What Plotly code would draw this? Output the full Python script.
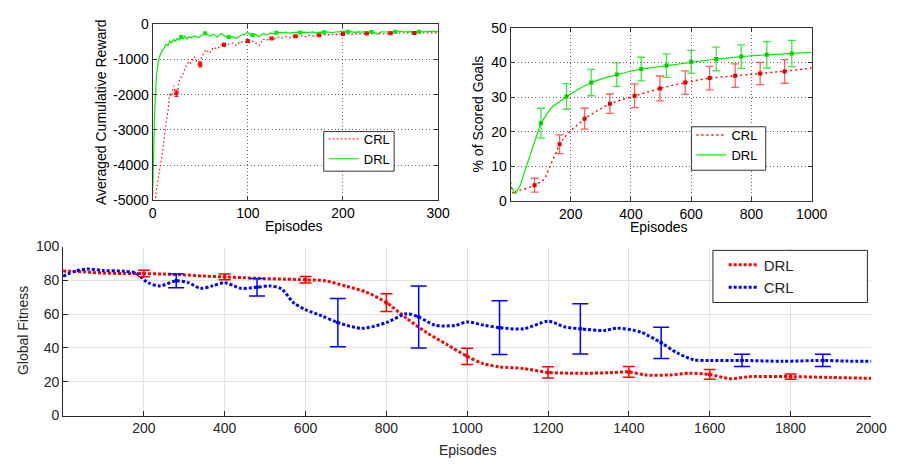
import plotly.graph_objects as go

# ---------------- top-left: averaged cumulative reward ----------------
TL_EP = list(range(0, 42, 2)) + list(range(44, 304, 4))
TL_DRL = [-4850, -2600, -1450, -1050, -860, -740, -690, -560, -610, -470, -520,
          -430, -480, -400, -450, -360, -410, -330, -420, -350, -380,
          -330, -380, -300, -250, -340, -280, -360, -260, -330, -370,
          -350, -400, -320, -280, -230, -330, -280, -350, -260, -300,
          -250, -270, -230, -240, -220, -250, -230, -220, -240, -220,
          -230, -215, -240, -220, -225, -210, -230, -215, -220, -200,
          -215, -205, -225, -210, -220, -205, -215, -220, -280, -210,
          -215, -205, -210, -215, -200, -210, -205, -215, -200, -205,
          -210, -200, -205, -200, -205]
TL_CRL = [-5500, -5200, -4700, -4400, -4000, -3700, -3300, -2800, -2500, -1950, -2050,
          -1750, -1950, -2000, -1600, -1500, -1400, -1250, -1150, -1050, -1100,
          -920, -1150, -900, -720, -820, -650, -700, -580, -620, -560,
          -530, -600, -480, -520, -460, -450, -520, -600, -420, -450,
          -380, -410, -360, -390, -350, -380, -330, -340, -320, -350,
          -310, -330, -300, -320, -290, -300, -280, -300, -270, -280,
          -260, -290, -270, -260, -280, -250, -270, -260, -250, -270,
          -255, -260, -250, -245, -255, -250, -240, -250, -245, -240,
          -250, -245, -240, -245, -240]
TL_CRL_EB_X = [25, 50, 75, 100, 125, 150, 175, 200, 225, 250, 275]
TL_CRL_EB_Y = [-1960, -1140, -580, -470, -400, -340, -310, -270, -260, -250, -245]
TL_CRL_EB_E = [90, 70, 40, 40, 30, 30, 25, 25, 25, 25, 25]
TL_DRL_EB_X = [30, 55, 80, 105, 130, 155, 180, 205, 230, 255, 280]
TL_DRL_EB_Y = [-360, -250, -360, -300, -240, -230, -220, -210, -215, -210, -205]
TL_DRL_EB_E = [25, 25, 25, 25, 20, 20, 20, 20, 20, 20, 20]
TL_XTICKS = [0, 100, 200, 300]
TL_YTICKS = [-5000, -4000, -3000, -2000, -1000, 0]

# ---------------- top-right: % of scored goals ----------------
TR_DRL_X = [0, 6, 12, 17, 25, 33, 45, 60, 82, 101, 120, 136, 160, 186, 230, 268,
            310, 353, 395, 434, 476, 518, 560, 600, 640, 683, 725, 766, 808, 851,
            893, 934, 1000]
TR_DRL_Y = [3.5, 3.7, 2.5, 2.2, 3.5, 4.7, 8.0, 12.1, 17.7, 22.5, 25.0, 27.0, 28.5,
            30.2, 32.5, 34.2, 35.5, 36.5, 37.4, 38.1, 38.6, 39.1, 39.7, 40.2, 40.6,
            41.0, 41.3, 41.7, 42.0, 42.2, 42.4, 42.6, 42.9]
TR_CRL_X = [0, 3, 8, 12, 20, 38, 60, 80, 100, 114, 130, 146, 163, 180, 196, 220,
            246, 290, 330, 370, 412, 455, 496, 538, 580, 620, 661, 705, 746, 790,
            829, 870, 910, 955, 1000]
TR_CRL_Y = [5.5, 3.7, 2.5, 2.0, 3.0, 3.3, 3.8, 4.6, 5.5, 6.5, 9.5, 13.0, 16.4, 18.5,
            20.0, 21.8, 23.8, 26.2, 28.1, 29.3, 30.4, 31.5, 32.5, 33.4, 34.2, 34.9,
            35.5, 35.9, 36.2, 36.5, 36.8, 37.1, 37.4, 37.9, 38.4]
TR_DRL_EB_X = [101, 186, 268, 353, 434, 518, 600, 683, 766, 851, 934]
TR_DRL_EB_Y = [22.5, 30.2, 34.2, 36.5, 38.1, 39.1, 40.2, 41.0, 41.7, 42.2, 42.6]
TR_DRL_EB_E = [4.3, 3.7, 3.8, 3.4, 3.4, 3.4, 3.3, 3.4, 3.4, 3.8, 3.8]
TR_CRL_EB_X = [80, 163, 246, 330, 412, 496, 580, 661, 746, 829, 910]
TR_CRL_EB_Y = [4.6, 16.4, 23.8, 28.1, 30.4, 32.5, 34.2, 35.5, 36.2, 36.8, 37.4]
TR_CRL_EB_E = [2.0, 2.7, 3.0, 2.8, 3.4, 3.6, 3.4, 3.4, 3.4, 3.2, 3.4]
TR_XTICKS = [200, 400, 600, 800, 1000]
TR_YTICKS = [0, 10, 20, 30, 40, 50]

# ---------------- bottom: global fitness ----------------
BT_DRL_X = [0, 50, 100, 150, 200, 250, 300, 350, 400, 450, 500, 550, 600, 650, 700,
            750, 800, 850, 900, 950, 1000, 1040, 1080, 1140, 1200, 1280, 1350, 1400,
            1440, 1500, 1550, 1600, 1650, 1700, 1800, 1900, 2000]
BT_DRL_Y = [85.5, 85.0, 84.3, 84.0, 84.0, 83.7, 83.2, 82.5, 82.0, 81.5, 81.0, 80.7,
            80.3, 79.7, 76.5, 73.0, 66.8, 57.5, 49.0, 42.0, 35.0, 30.7, 28.8, 27.8,
            25.5, 25.0, 25.3, 25.8, 24.0, 24.0, 25.0, 24.3, 21.8, 23.0, 23.0, 22.5, 22.0]
BT_CRL_X = [0, 30, 60, 100, 150, 180, 210, 240, 280, 310, 340, 370, 400, 440, 480,
            510, 540, 570, 600, 640, 680, 740, 800, 850, 880, 920, 970, 1000, 1040,
            1080, 1140, 1200, 1240, 1280, 1340, 1370, 1430, 1480, 1520, 1560, 1600,
            1680, 1780, 1880, 1940, 2000]
BT_CRL_Y = [82.4, 85.4, 86.7, 85.8, 85.4, 84.3, 78.6, 76.7, 79.7, 78.6, 75.3, 76.7,
            78.6, 75.3, 75.9, 76.7, 75.0, 66.8, 62.6, 59.0, 55.0, 51.6, 55.0, 60.2,
            58.3, 53.5, 53.3, 55.4, 53.5, 52.0, 51.3, 55.8, 52.5, 51.3, 50.3, 51.7,
            49.3, 43.0, 37.0, 33.0, 32.6, 32.6, 32.1, 32.6, 32.2, 32.1]
BT_DRL_EB_X = [200, 400, 600, 800, 1000, 1200, 1400, 1600, 1800]
BT_DRL_EB_Y = [84.0, 82.0, 80.3, 66.8, 35.0, 25.5, 25.8, 24.3, 23.0]
BT_DRL_EB_E = [1.9, 1.7, 1.9, 5.2, 4.8, 3.3, 3.2, 2.9, 1.5]
BT_CRL_EB_X = [280, 480, 680, 880, 1080, 1280, 1480, 1680, 1880]
BT_CRL_EB_Y = [79.7, 75.9, 55.0, 58.3, 52.0, 51.3, 43.0, 32.6, 32.6]
BT_CRL_EB_E = [4.1, 5.2, 14.3, 18.4, 15.9, 14.9, 9.3, 3.6, 3.6]
BT_XTICKS = [200, 400, 600, 800, 1000, 1200, 1400, 1600, 1800, 2000]
BT_YTICKS = [0, 20, 40, 60, 80, 100]

W, H = 902, 466
FONT = "Liberation Sans, Arial, sans-serif"
RED, GREEN, BLUE = "#ff0000", "#00ee00", "#0000ff"


def px_x(p):
    return p / W


def px_y(p):
    return 1 - p / H


fig = go.Figure()

# top-left traces
fig.add_trace(go.Scatter(x=TL_EP, y=TL_CRL, mode="lines", name="CRL",
                         line=dict(color=RED, width=1.2, dash="1.5px,2.5px"),
                         xaxis="x", yaxis="y", legend="legend"))
fig.add_trace(go.Scatter(x=TL_EP, y=TL_DRL, mode="lines", name="DRL",
                         line=dict(color=GREEN, width=1.2),
                         xaxis="x", yaxis="y", legend="legend"))
fig.add_trace(go.Scatter(x=TL_CRL_EB_X, y=TL_CRL_EB_Y, mode="markers", showlegend=False,
                         marker=dict(color=RED, size=4, symbol="square"),
                         error_y=dict(type="data", array=TL_CRL_EB_E, color=RED,
                                      thickness=1, width=2),
                         xaxis="x", yaxis="y"))
fig.add_trace(go.Scatter(x=TL_DRL_EB_X, y=TL_DRL_EB_Y, mode="markers", showlegend=False,
                         marker=dict(color=GREEN, size=4, symbol="square"),
                         error_y=dict(type="data", array=TL_DRL_EB_E, color=GREEN,
                                      thickness=1, width=2),
                         xaxis="x", yaxis="y"))

# top-right traces
fig.add_trace(go.Scatter(x=TR_CRL_X, y=TR_CRL_Y, mode="lines", name="CRL",
                         line=dict(color=RED, width=1.4, dash="2px,3px"),
                         xaxis="x2", yaxis="y2", legend="legend2"))
fig.add_trace(go.Scatter(x=TR_DRL_X, y=TR_DRL_Y, mode="lines", name="DRL",
                         line=dict(color=GREEN, width=1.2),
                         xaxis="x2", yaxis="y2", legend="legend2"))
fig.add_trace(go.Scatter(x=TR_CRL_EB_X, y=TR_CRL_EB_Y, mode="markers", showlegend=False,
                         marker=dict(color="#e00000", size=4, symbol="square"),
                         error_y=dict(type="data", array=TR_CRL_EB_E,
                                      color="rgba(255,40,40,0.75)", thickness=1.3, width=4),
                         xaxis="x2", yaxis="y2"))
fig.add_trace(go.Scatter(x=TR_DRL_EB_X, y=TR_DRL_EB_Y, mode="markers", showlegend=False,
                         marker=dict(color="#00cc00", size=4, symbol="square"),
                         error_y=dict(type="data", array=TR_DRL_EB_E,
                                      color="rgba(20,220,20,0.8)", thickness=1.3, width=4),
                         xaxis="x2", yaxis="y2"))

# bottom traces
fig.add_trace(go.Scatter(x=BT_DRL_X, y=BT_DRL_Y, mode="lines", name="DRL",
                         line=dict(color=RED, width=3, dash="3px,2px", shape="spline",
                                   smoothing=0.8),
                         xaxis="x3", yaxis="y3", legend="legend3"))
fig.add_trace(go.Scatter(x=BT_CRL_X, y=BT_CRL_Y, mode="lines", name="CRL",
                         line=dict(color=BLUE, width=3, dash="3px,2px", shape="spline",
                                   smoothing=0.8),
                         xaxis="x3", yaxis="y3", legend="legend3"))
fig.add_trace(go.Scatter(x=BT_DRL_EB_X, y=BT_DRL_EB_Y, mode="markers", showlegend=False,
                         marker=dict(color=RED, size=4),
                         error_y=dict(type="data", array=BT_DRL_EB_E, color=RED,
                                      thickness=1.5, width=6),
                         xaxis="x3", yaxis="y3"))
fig.add_trace(go.Scatter(x=BT_CRL_EB_X, y=BT_CRL_EB_Y, mode="markers", showlegend=False,
                         marker=dict(color=BLUE, size=4),
                         error_y=dict(type="data", array=BT_CRL_EB_E, color=BLUE,
                                      thickness=1.5, width=8),
                         xaxis="x3", yaxis="y3"))

top_tick_font = dict(family=FONT, size=14, color="black")
top_axis = dict(showline=True, linecolor="#333", linewidth=1, mirror="ticks",
                ticks="inside", ticklen=4, tickcolor="#333",
                showgrid=True, gridcolor="rgba(0,0,0,0.6)", griddash="1px,2.5px",
                gridwidth=1, zeroline=False, tickfont=top_tick_font)

bt_axis = dict(showline=True, linecolor="#262626", linewidth=1, mirror=False,
               ticks="inside", ticklen=5, tickcolor="#262626",
               showgrid=True, gridcolor="#e3e3e3", gridwidth=1,
               zeroline=False, tickfont=dict(family=FONT, size=14, color="#262626"))

# legend entries are drawn by plotly; their frames are drawn as boxes behind them
legend_common = dict(xanchor="left", yanchor="top", bgcolor="rgba(0,0,0,0)",
                     borderwidth=0, tracegroupgap=0)

fig.update_layout(
    width=W, height=H, margin=dict(l=0, r=0, t=0, b=0),
    paper_bgcolor="white", plot_bgcolor="white",
    font=dict(family=FONT, size=14, color="black"),
    xaxis=dict(top_axis, domain=[px_x(152), px_x(444)], range=[0, 300],
               tickvals=TL_XTICKS, ticktext=[str(v) for v in TL_XTICKS], anchor="y"),
    yaxis=dict(top_axis, domain=[px_y(199), px_y(17)], range=[-5000, 0],
               tickvals=TL_YTICKS, ticktext=[str(v) for v in TL_YTICKS], anchor="x"),
    xaxis2=dict(top_axis, domain=[px_x(518), px_x(826)], range=[0, 1000],
                tickvals=TR_XTICKS, ticktext=[str(v) for v in TR_XTICKS], anchor="y2"),
    yaxis2=dict(top_axis, domain=[px_y(200), px_y(20.5)], range=[0, 50],
                tickvals=TR_YTICKS, ticktext=[str(v) for v in TR_YTICKS], anchor="x2"),
    xaxis3=dict(bt_axis, domain=[px_x(60.4), px_x(887)], range=[0, 2000],
                tickvals=BT_XTICKS, ticktext=[str(v) for v in BT_XTICKS], anchor="y3"),
    yaxis3=dict(bt_axis, domain=[px_y(422), px_y(247)], range=[0, 100],
                tickvals=BT_YTICKS, ticktext=[str(v) for v in BT_YTICKS], anchor="x3"),
    legend=dict(legend_common, x=px_x(327), y=px_y(120),
                font=dict(family=FONT, size=13, color="black")),
    legend2=dict(legend_common, x=px_x(703), y=px_y(116),
                 font=dict(family=FONT, size=13, color="black")),
    legend3=dict(legend_common, x=px_x(736), y=px_y(249),
                 font=dict(family=FONT, size=15, color="#262626")),
    showlegend=True,
)

# legend frames
for x0, y0, x1, y1, col in [(327, 128, 399, 169, "#333"),
                            (703, 123, 779, 168, "#333"),
                            (725, 251, 883, 305, "#262626")]:
    fig.add_shape(type="rect", xref="paper", yref="paper",
                  x0=px_x(x0), x1=px_x(x1), y0=px_y(y1), y1=px_y(y0),
                  fillcolor="white", line=dict(color=col, width=1), layer="above")

# axis titles
titles = [
    ("Averaged Cumulative Reward", 100, 108, -90, "black"),
    ("Episodes", 297, 226, 0, "black"),
    ("% of Scored Goals", 485, 110, -90, "black"),
    ("Episodes", 670, 227, 0, "black"),
    ("Global Fitness", 19, 334, -90, "#262626"),
    ("Episodes", 475, 458, 0, "#262626"),
]
for text, cx, cy, ang, col in titles:
    fig.add_annotation(text=text, x=px_x(cx), y=px_y(cy), xref="paper", yref="paper",
                       xanchor="center", yanchor="middle", showarrow=False, textangle=ang,
                       font=dict(family=FONT, size=14, color=col))

fig.write_html("out.html")
